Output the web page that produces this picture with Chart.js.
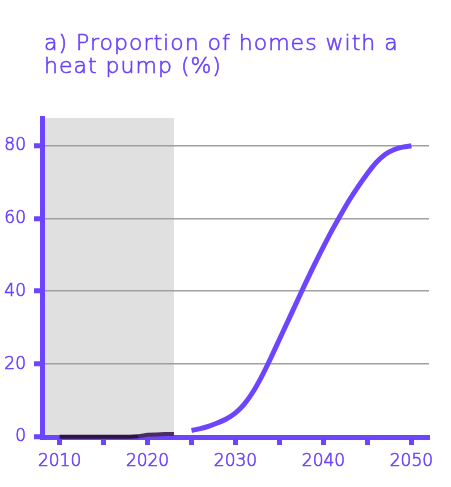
<!DOCTYPE html>
<html>
<head>
<meta charset="utf-8">
<script src="https://cdn.jsdelivr.net/npm/chart.js@4/dist/chart.umd.min.js"></script>
<style>
  html, body { margin: 0; padding: 0; background: #fff; }
  #wrap { width: 451px; height: 487px; position: relative; }
</style>
</head>
<body>
<div id="wrap"><canvas id="heatPumpChart"></canvas></div>
<script>
const titleLines = ['a) Proportion of homes with a', 'heat pump (%)'];

// historic (shaded) period
const histYears = [2010, 2011, 2012, 2013, 2014, 2015, 2016, 2017, 2018, 2019, 2020, 2021, 2022, 2023];
const histValues = [0.1, 0.1, 0.1, 0.1, 0.1, 0.1, 0.1, 0.1, 0.1, 0.2, 0.6, 0.7, 0.8, 0.8];

// pathway
const projYears = [2025, 2026, 2027, 2028, 2029, 2030, 2031, 2032, 2033, 2034, 2035, 2036, 2037,
  2038, 2039, 2040, 2041, 2042, 2043, 2044, 2045, 2046, 2047, 2048, 2049, 2050];
const projValues = [1.8, 2.3, 3.0, 3.9, 5.0, 6.6, 9.0, 12.4, 16.7, 21.6, 26.8, 32, 37.2,
  42.4, 47.4, 52.2, 56.8, 61.1, 65.2, 68.9, 72.3, 75.3, 77.5, 78.8, 79.5, 79.9];

const xTicks = [2010, 2015, 2020, 2025, 2030, 2035, 2040, 2045, 2050];
const yTicks = [0, 20, 40, 60, 80];
const shadeStart = 2008;
const shadeEnd = 2023;

const purple = '#6e45ff';
const textPurple = '#6a40ff';
const fontFamily = '"DejaVu Sans", sans-serif';

// grey box for the historic years
const shadePlugin = {
  id: 'shade',
  beforeDraw(chart) {
    const { ctx, chartArea, scales } = chart;
    const x0 = scales.x.getPixelForValue(shadeStart);
    const x1 = scales.x.getPixelForValue(shadeEnd);
    ctx.save();
    ctx.fillStyle = '#e0e0e0';
    ctx.fillRect(x0, chartArea.top, x1 - x0, chartArea.bottom - chartArea.top);
    ctx.restore();
  }
};

// title at the top left
const titlePlugin = {
  id: 'leftTitle',
  afterDraw(chart) {
    const ctx = chart.ctx;
    ctx.save();
    ctx.fillStyle = textPurple;
    ctx.strokeStyle = textPurple;
    ctx.lineWidth = 0.6;
    ctx.font = '200 22px ' + fontFamily;
    ctx.letterSpacing = '1px';
    ctx.textBaseline = 'alphabetic';
    titleLines.forEach((line, i) => {
      ctx.fillText(line, 44, 50 + i * 23);
      ctx.strokeText(line, 44, 50 + i * 23);
    });
    ctx.restore();
  }
};

const tickFont = { family: fontFamily, size: 17, weight: 200 };

const ctx = document.getElementById('heatPumpChart').getContext('2d');
new Chart(ctx, {
  type: 'line',
  data: {
    datasets: [{
      label: 'Historic',
      data: histYears.map((y, i) => ({ x: y, y: histValues[i] })),
      borderColor: '#2e1248',
      borderWidth: 4,
      pointRadius: 0,
      clip: false,
      segment: {
        borderColor: c => c.p0.parsed.x >= 2019 ? '#4b2d63' : '#2e1248'
      }
    }, {
      label: 'Pathway',
      data: projYears.map((y, i) => ({ x: y, y: projValues[i] })),
      borderColor: purple,
      borderWidth: 5,
      pointRadius: 0,
      cubicInterpolationMode: 'monotone',
      clip: false
    }]
  },
  options: {
    responsive: true,
    maintainAspectRatio: false,
    animation: false,
    layout: { padding: { top: 118, right: 22, left: 0, bottom: 0 } },
    plugins: {
      legend: { display: false },
      title: { display: false },
      tooltip: { enabled: false }
    },
    scales: {
      x: {
        type: 'linear',
        min: 2008,
        max: 2052,
        afterBuildTicks: s => { s.ticks = xTicks.map(v => ({ value: v })); },
        afterFit: s => { s.height = 50; },
        border: { color: purple, width: 5 },
        grid: {
          drawOnChartArea: false,
          tickColor: purple,
          tickWidth: 5,
          tickLength: 8
        },
        ticks: {
          color: textPurple,
          textStrokeColor: textPurple,
          textStrokeWidth: 0.6,
          font: tickFont,
          padding: 6,
          maxRotation: 0,
          autoSkip: false,
          callback: v => v % 10 === 0 ? String(v) : ''
        }
      },
      y: {
        min: 0,
        max: 87.5,
        afterBuildTicks: s => { s.ticks = yTicks.map(v => ({ value: v })); },
        afterFit: s => { s.width = 42; },
        border: { color: purple, width: 5 },
        grid: {
          color: c => c.tick && c.tick.value === 0 ? 'rgba(0,0,0,0)' : '#a0a0a0',
          lineWidth: 1.5,
          tickColor: purple,
          tickWidth: 5,
          tickLength: 8
        },
        ticks: {
          color: textPurple,
          textStrokeColor: textPurple,
          textStrokeWidth: 0.6,
          font: tickFont,
          padding: 8
        }
      }
    }
  },
  plugins: [shadePlugin, titlePlugin]
});
</script>
</body>
</html>
